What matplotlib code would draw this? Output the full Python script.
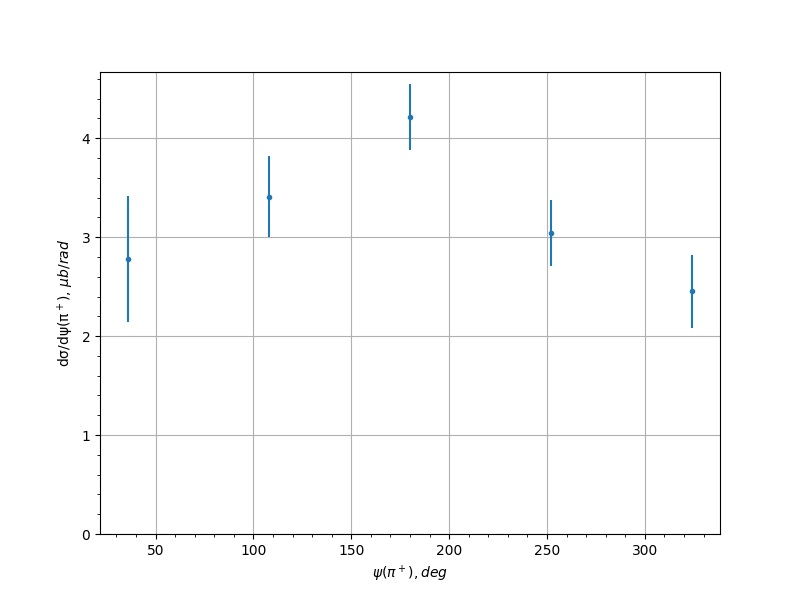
import matplotlib
matplotlib.use("Agg")
import matplotlib.pyplot as plt

psi = [36, 108, 180, 252, 324]
dsigma = [2.777, 3.41, 4.213, 3.04, 2.452]
err = [0.635, 0.41, 0.333, 0.333, 0.367]

fig, ax = plt.subplots(figsize=(8, 6), dpi=100)
ax.errorbar(psi, dsigma, yerr=err, fmt='o', markersize=3)
ax.set_ylim(bottom=0)
ax.minorticks_on()
ax.grid(True, which='major')
ax.set_xlabel(r'$\psi(\pi^+), deg$')
ax.set_ylabel(r'dσ/dψ(π$^+$), $\mu b/rad$')
fig.savefig("out.png")
